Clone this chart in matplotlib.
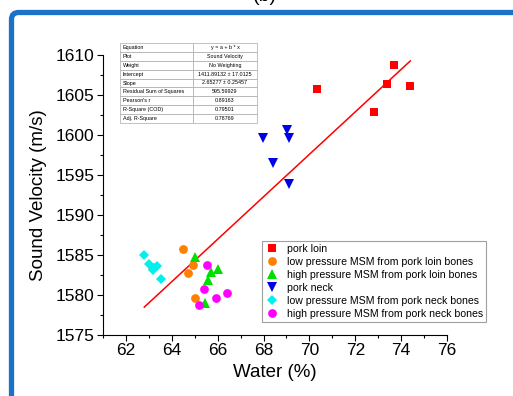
import matplotlib.pyplot as plt
import matplotlib.patches as mpatches
import matplotlib.transforms as mtransforms
import numpy as np

plt.rcParams['font.family'] = ['Liberation Sans', 'DejaVu Sans']

# data
loin_x = [73.70, 73.40, 74.40, 70.32, 72.80]
loin_y = [1608.8, 1606.4, 1606.1, 1605.7, 1602.9]

lp_loin_x = [64.50, 64.91, 64.71, 65.01, 63.12]
lp_loin_y = [1585.8, 1583.7, 1582.8, 1579.6, 1583.5]

hp_loin_x = [65.01, 65.71, 66.02, 65.59, 65.45]
hp_loin_y = [1584.8, 1582.9, 1583.2, 1581.9, 1579.0]

neck_x = [67.99, 69.01, 69.11, 68.40, 69.11]
neck_y = [1599.6, 1600.6, 1599.6, 1596.5, 1593.9]

lp_neck_x = [62.80, 63.01, 63.34, 63.19, 63.52]
lp_neck_y = [1585.0, 1583.9, 1583.6, 1583.1, 1582.0]

hp_neck_x = [65.52, 65.40, 65.20, 65.91, 66.41]
hp_neck_y = [1583.7, 1580.7, 1578.8, 1579.6, 1580.2]

intercept = 1411.89132
slope = 2.65277
fit_x = [62.8, 74.4]

table_rows = [
    ("Equation", "y = a + b * x"),
    ("Plot", "Sound Velocity"),
    ("Weight", "No Weighting"),
    ("Intercept", "1411.89132 \u00b1 17.0125"),
    ("Slope", "2.65277 \u00b1 0.25457"),
    ("Residual Sum of Squares", "595.59929"),
    ("Pearson's r", "0.89163"),
    ("R-Square (COD)", "0.79501"),
    ("Adj. R-Square", "0.78769"),
]

W, H = 513, 396
fig = plt.figure(figsize=(W / 100, H / 100), dpi=100)
ax = fig.add_axes([103 / W, 1 - 335 / H, (447 - 103) / W, (335 - 55) / H])

series = [
    (loin_x, loin_y, 's', '#ff0000', 5.5, "pork loin"),
    (lp_loin_x, lp_loin_y, 'o', '#ff8000', 6.3, "low pressure MSM from pork loin bones"),
    (hp_loin_x, hp_loin_y, '^', '#00e000', 6.8, "high pressure MSM from pork loin bones"),
    (neck_x, neck_y, 'v', '#0000e8', 6.8, "pork neck"),
    (lp_neck_x, lp_neck_y, 'D', '#00f0f0', 5.3, "low pressure MSM from pork neck bones"),
    (hp_neck_x, hp_neck_y, 'o', '#ff00ff', 6.3, "high pressure MSM from pork neck bones"),
]
for xs, ys, mk, col, ms, lab in series:
    ax.plot(xs, ys, linestyle='none', marker=mk, color=col, markersize=ms,
            markeredgewidth=0, label=lab)

fx = np.array(fit_x)
ax.plot(fx, intercept + slope * fx, color='#ff0000', linewidth=1.1, zorder=1)

ax.set_xlim(61, 76)
ax.set_ylim(1575, 1610)
ax.set_xticks(np.arange(62, 77, 2))
ax.set_xticks(np.arange(61, 77, 1), minor=True)
ax.set_yticks(np.arange(1575, 1611, 5))
ax.set_yticks(np.arange(1575, 1611, 2.5), minor=True)
ax.spines['top'].set_visible(False)
ax.spines['right'].set_visible(False)
ax.tick_params(which='major', direction='out', length=4, width=0.8, labelsize=12.5, pad=2)
ax.tick_params(which='minor', direction='out', length=2, width=0.8)
ax.set_xlabel("Water (%)", fontsize=13.5, labelpad=4)
ax.set_ylabel("Sound Velocity (m/s)", fontsize=13.5, labelpad=6)

leg = ax.legend(loc='lower right', bbox_to_anchor=(486 / W, 1 - 322 / H),
                bbox_transform=fig.transFigure, fontsize=7.6, frameon=True,
                fancybox=False, edgecolor='#888888', borderpad=0.3,
                labelspacing=0.28, handletextpad=0.8, handlelength=1.2,
                borderaxespad=0)
leg.get_frame().set_linewidth(0.8)

# regression results table
tab = ax.table(cellText=[list(r) for r in table_rows], cellLoc='left',
               bbox=[(120 - 103) / 344, (335 - 123) / 280, (257 - 120) / 344, 80 / 280],
               colWidths=[73, 64])
tab.auto_set_font_size(False)
tab.set_fontsize(3.9)
for (r, c), cell in tab.get_celld().items():
    cell.set_edgecolor('#aaaaaa')
    cell.set_linewidth(0.5)
    cell.PAD = 0.04
    if c == 1:
        cell.get_text().set_ha('center')
        cell._loc = 'center'

# blue frame around the panel
frame = mpatches.FancyBboxPatch((11.5, -60), 600, H - 12.5 + 60,
                                boxstyle='round,pad=0,rounding_size=7',
                                transform=mtransforms.IdentityTransform(),
                                facecolor='none', edgecolor='#1a73c8', linewidth=3.8)
fig.add_artist(frame)

fig.text(265 / W, 1 - 5 / H, "(b)", ha='center', va='bottom', fontsize=14)

fig.savefig("out.png", dpi=100)
